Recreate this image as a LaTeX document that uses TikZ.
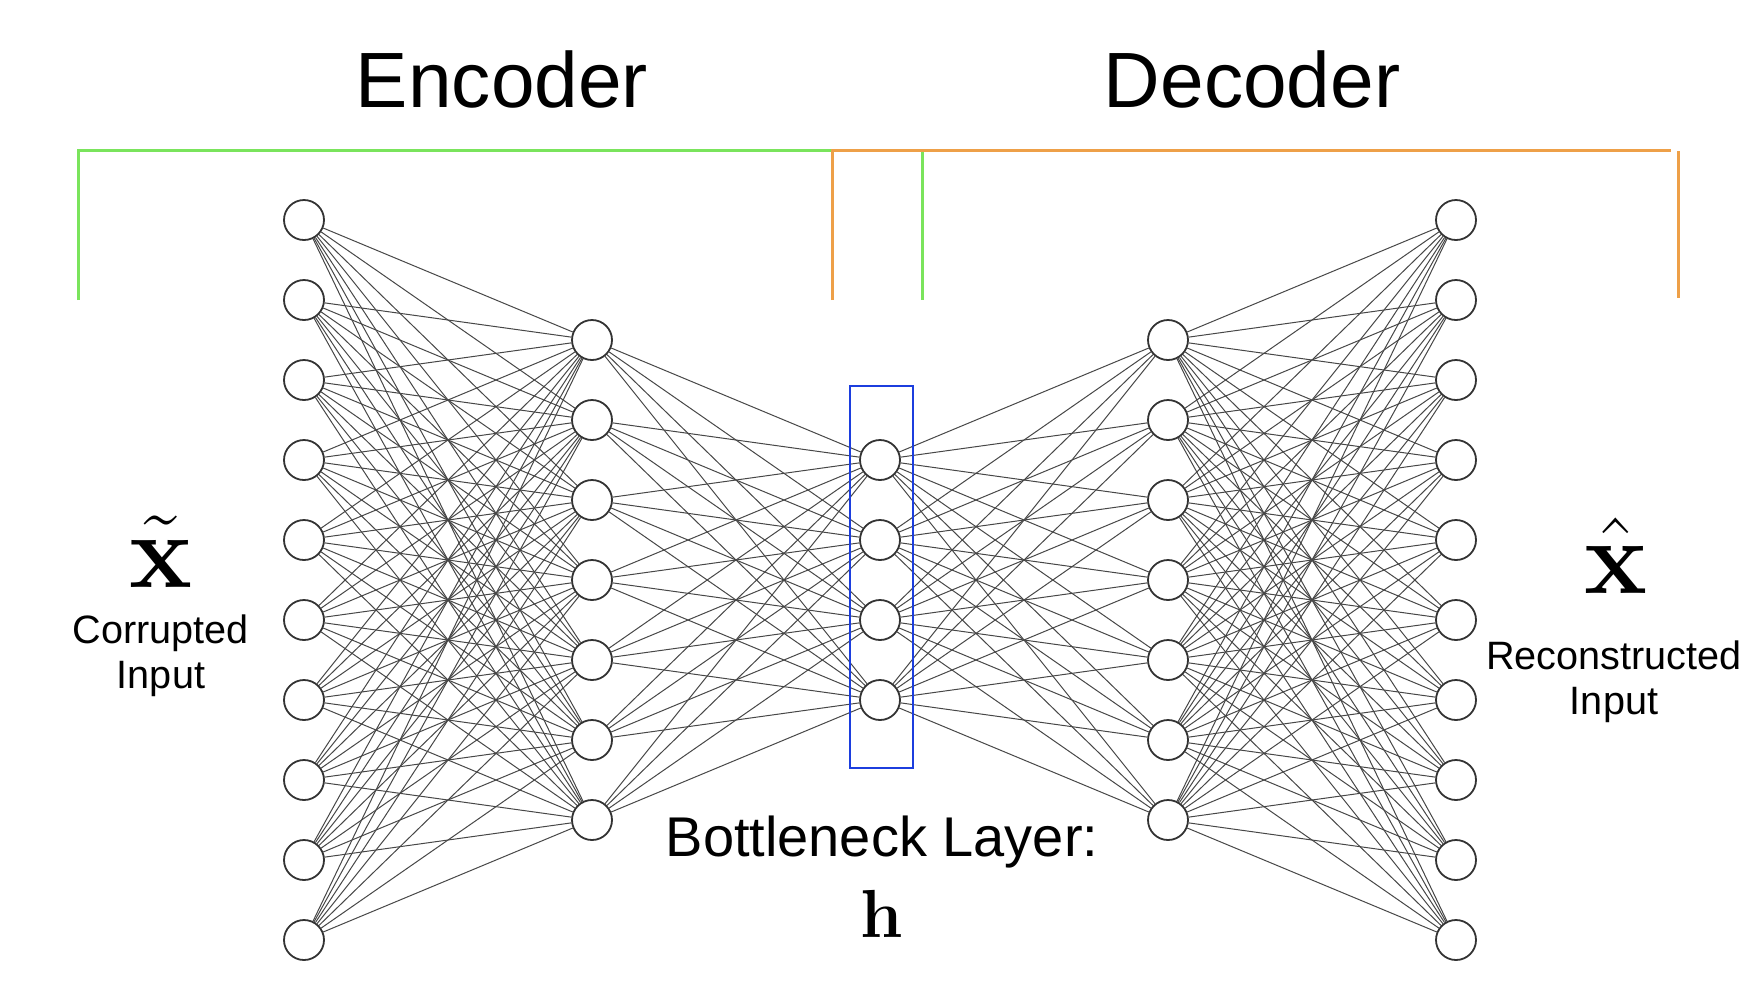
\RequirePackage{fix-cm}
\documentclass[tikz,border=0pt]{standalone}
\usepackage[no-math]{fontspec}
\newfontfamily\labelfont{Liberation Sans}
\definecolor{enccol}{RGB}{122,228,92}
\definecolor{deccol}{RGB}{238,160,72}
\definecolor{bncol}{RGB}{28,62,222}

\begin{document}
\begin{tikzpicture}[x=0.5pt,y=0.5pt,yscale=-1,xscale=1,
	neuron/.style={circle,draw=black!80,line width=0.9pt,fill=white,minimum size=20pt,inner sep=0pt},
	link/.style={draw=black!72,line width=0.5pt},
	encbracket/.style={draw=enccol,line width=1.5pt},
	decbracket/.style={draw=deccol,line width=1.5pt},
	title/.style={font=\labelfont\fontsize{39.2}{47}\selectfont,inner sep=0pt},
	caption/.style={font=\labelfont\fontsize{19.8}{22.5}\selectfont,align=center,inner sep=0pt}]
		%set diagram size
		\useasboundingbox (0,0) rectangle (1758,998);
		
		%Layers: input, encoder, bottleneck, decoder, output
		\foreach \i in {1,...,10} \node[neuron] (in\i) at (304,{580+(\i-5.5)*80}) {};
		\foreach \i in {1,...,7} \node[neuron] (enc\i) at (592,{580+(\i-4)*80}) {};
		\foreach \i in {1,...,4} \node[neuron] (h\i) at (880,{580+(\i-2.5)*80}) {};
		\foreach \i in {1,...,7} \node[neuron] (dec\i) at (1168,{580+(\i-4)*80}) {};
		\foreach \i in {1,...,10} \node[neuron] (out\i) at (1456,{580+(\i-5.5)*80}) {};
		
		%Links between layers
		\foreach \i in {1,...,10} \foreach \j in {1,...,7} \draw[link] (in\i) -- (enc\j);
		\foreach \i in {1,...,7} \foreach \j in {1,...,4} \draw[link] (enc\i) -- (h\j);
		\foreach \i in {1,...,4} \foreach \j in {1,...,7} \draw[link] (h\i) -- (dec\j);
		\foreach \i in {1,...,7} \foreach \j in {1,...,10} \draw[link] (dec\i) -- (out\j);
		
		%Shape: Rectangle round bottleneck
		\draw[draw=bncol,line width=1.3pt] (850,386) rectangle (913,768);
		
		%Brackets
		\draw[encbracket] (78,300) -- (78,150) -- (922,150) -- (922,300);
		\draw[decbracket] (832,300) -- (832,150) -- (1671,150);
		\draw[decbracket] (1678,151) -- (1678,298);
		
		% Text Node
		\node[title,anchor=base] (enclabel) at (502,107) {Encoder};
		% Text Node
		\node[title,anchor=base] (declabel) at (1252,107) {Decoder};
		% Text Node
		\node[anchor=base,inner sep=0pt,font=\fontsize{53}{60}\selectfont] (xin) at (161,587) {$\tilde{\mathbf{x}}$};
		% Text Node
		\node[caption,anchor=base] (inlabel) at (161,688) {Corrupted\\Input};
		% Text Node
		\node[anchor=base,inner sep=0pt,font=\fontsize{53}{60}\selectfont] (xout) at (1616,593) {$\hat{\mathbf{x}}$};
		% Text Node
		\node[caption,anchor=base] (outlabel) at (1614,714) {Reconstructed\\Input};
		% Text Node
		\node[anchor=base,inner sep=0pt,font=\labelfont\fontsize{28}{34}\selectfont] (bnlabel) at (882,856) {Bottleneck Layer:};
		% Text Node
		\node[anchor=base,inner sep=0pt,font=\fontsize{34}{40}\selectfont] (hlabel) at (882,937) {$\mathbf{h}$};
		
\end{tikzpicture}
\end{document}
